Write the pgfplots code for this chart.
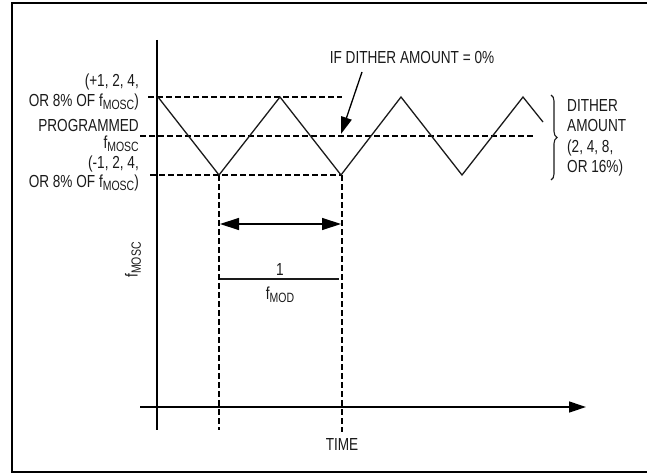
\documentclass[border=0pt]{standalone}
\usepackage{pgfplots}
\pgfplotsset{compat=1.18}
\usepackage{fontspec}
\setmainfont[FakeStretch=0.78]{Liberation Sans}
\usetikzlibrary{arrows.meta,decorations.pathreplacing}
\definecolor{ink}{HTML}{1A1A1A}
\newcommand\sub[1]{\raisebox{-0.35ex}{\fontsize{13.5}{14}\selectfont #1}}
\tikzset{
    dashln/.style={dash pattern=on 5.5bp off 3.5bp, line width=1.1bp},
    lbl/.style={font=\fontsize{17.5}{20}\selectfont, text=ink, inner sep=0pt},
}
\begin{document}
\begin{tikzpicture}
\begin{axis}[
    hide axis, scale only axis, clip=false,
    width=647bp, height=474bp,
    xmin=0, xmax=647, ymin=0, ymax=474, y dir=reverse,
    enlargelimits=false,
    cycle list={{ink, solid}}, no markers,
    every axis plot/.append style={line width=1.3bp},
]
% frame
\addplot[line width=2bp] coordinates {(647,3.5) (12,3.5) (12,472) (647,472)};
% axes
\addplot coordinates {(157,40) (157,430)};
\addplot[-{Triangle[length=17bp,width=11bp]}] coordinates {(140,407) (586,407)};
% level lines
\addplot[dashln] coordinates {(148,97) (342,97)};
\addplot[dashln] coordinates {(140,136) (533,136)};
\addplot[dashln] coordinates {(150,175) (342,175)};
% period markers
\addplot[dashln] coordinates {(219,175) (219,430)};
\addplot[dashln] coordinates {(342,175) (342,432)};
% triangle wave
\addplot coordinates {(158,97) (219,175) (280,97) (341,175) (401,97) (462,175) (523,97) (543,122)};
% period arrow and fraction bar
\addplot[{Triangle[length=19bp,width=12bp]}-{Triangle[length=19bp,width=12bp]}] coordinates {(220,224) (341,224)};
\addplot coordinates {(220,279) (339,279)};
% pointer
\addplot[-{Triangle[length=17bp,width=11bp]}] coordinates {(362,72) (341,134)};
% brace
\draw[ink, line width=1.1bp, decorate, decoration={brace, amplitude=6bp}] (axis cs:551,95) -- (axis cs:551,180);

\node[lbl, anchor=base] at (axis cs:412,64) {IF DITHER AMOUNT = 0\%};
\node[lbl, anchor=base west] at (axis cs:567,111) {DITHER};
\node[lbl, anchor=base west] at (axis cs:567,131) {AMOUNT};
\node[lbl, anchor=base west] at (axis cs:567,152) {(2, 4, 8,};
\node[lbl, anchor=base west] at (axis cs:567,172) {OR 16\%)};

\node[lbl, anchor=base east] at (axis cs:139,87) {(+1, 2, 4,};
\node[lbl, anchor=base east] at (axis cs:139,106) {OR 8\% OF f\sub{MOSC})};
\node[lbl, anchor=base east] at (axis cs:139,131) {PROGRAMMED};
\node[lbl, anchor=base east] at (axis cs:139,148) {f\sub{MOSC}};
\node[lbl, anchor=base east] at (axis cs:139,168) {(-1, 2, 4,};
\node[lbl, anchor=base east] at (axis cs:139,187) {OR 8\% OF f\sub{MOSC})};

\node[lbl, rotate=90] at (axis cs:133,260) {f\sub{MOSC}};
\node[lbl, anchor=base] at (axis cs:280,275) {1};
\node[lbl, anchor=base] at (axis cs:280,299) {f\sub{MOD}};
\node[lbl, anchor=base] at (axis cs:342,450) {TIME};
\end{axis}
\pgfresetboundingbox
\path (0,0) rectangle (647bp,474bp);
\end{tikzpicture}
\end{document}
